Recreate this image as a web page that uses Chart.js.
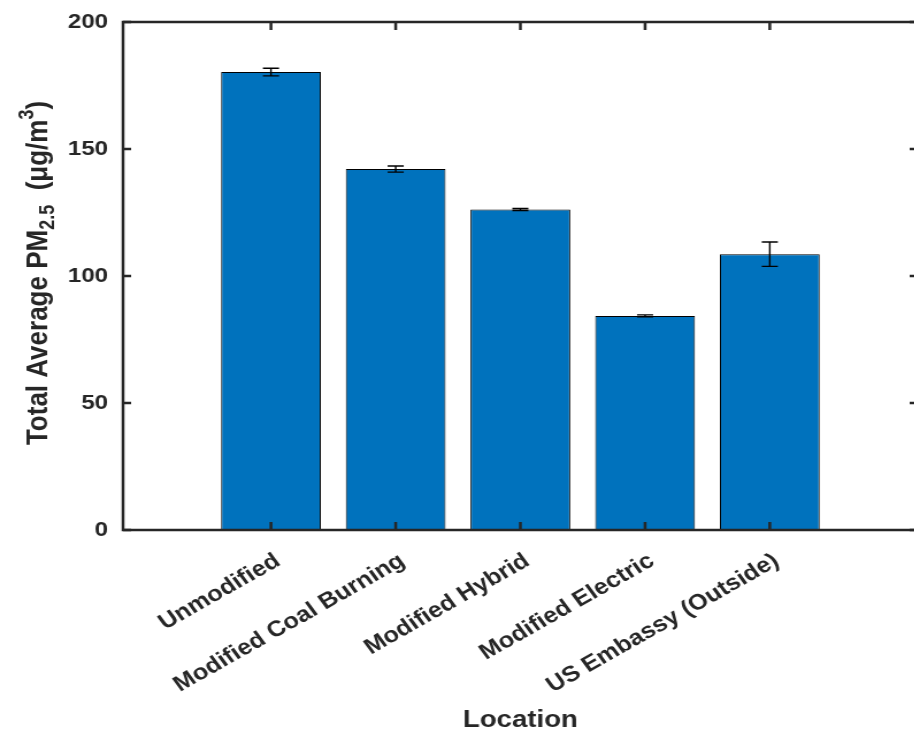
<!DOCTYPE html>
<html>
<head>
<meta charset="utf-8">
<script src="https://cdn.jsdelivr.net/npm/chart.js@4/dist/chart.umd.min.js"></script>
<style>
  html, body { margin: 0; padding: 0; background: #fff; overflow: hidden; }
  /* the original figure is a bit stretched horizontally */
  #wrap { width: 806px; height: 736px; position: relative; transform: scaleX(1.15); transform-origin: 0 0; }
</style>
</head>
<body>
<div id="wrap"><canvas id="pmChart"></canvas></div>
<script>
const categories = ['Unmodified', 'Modified Coal Burning', 'Modified Hybrid', 'Modified Electric', 'US Embassy (Outside)'];
const pmValues = [180.3, 142.1, 126.2, 84.3, 108.6];
const pmErrors = [1.5, 1.2, 0.4, 0.4, 4.8];
const yTicks = [0, 50, 100, 150, 200];

const AXIS_COLOR = '#262626';
const FONT = '"Liberation Sans", Arial, Helvetica, sans-serif';

// box, inward ticks, error bars and axis titles (MATLAB look)
const matlabAxes = {
  id: 'matlabAxes',
  afterDatasetsDraw(chart) {
    const { ctx, chartArea: a, scales: { x, y } } = chart;
    ctx.save();

    // error bars
    ctx.strokeStyle = '#000';
    ctx.lineWidth = 1.4;
    pmValues.forEach((v, i) => {
      const px = x.getPixelForValue(i + 1);
      const top = y.getPixelForValue(v + pmErrors[i]);
      const bot = y.getPixelForValue(v - pmErrors[i]);
      ctx.beginPath();
      ctx.moveTo(px, top); ctx.lineTo(px, bot);
      ctx.moveTo(px - 7, top); ctx.lineTo(px + 7, top);
      ctx.moveTo(px - 7, bot); ctx.lineTo(px + 7, bot);
      ctx.stroke();
    });

    // box
    ctx.strokeStyle = AXIS_COLOR;
    ctx.lineWidth = 2.5;
    ctx.strokeRect(a.left, a.top, a.right - a.left, a.bottom - a.top);

    // inward ticks
    ctx.beginPath();
    categories.forEach((c, i) => {
      const px = x.getPixelForValue(i + 1);
      ctx.moveTo(px, a.bottom); ctx.lineTo(px, a.bottom - 8);
      ctx.moveTo(px, a.top); ctx.lineTo(px, a.top + 8);
    });
    yTicks.forEach(t => {
      const py = y.getPixelForValue(t);
      ctx.moveTo(a.left, py); ctx.lineTo(a.left + 7, py);
      ctx.moveTo(a.right, py); ctx.lineTo(a.right - 7, py);
    });
    ctx.stroke();

    ctx.fillStyle = AXIS_COLOR;

    // x title
    ctx.font = 'bold 24px ' + FONT;
    ctx.textAlign = 'center';
    ctx.textBaseline = 'middle';
    ctx.fillText('Location', (a.left + a.right) / 2, 720);

    // y title with sub/superscript
    const parts = [
      { t: 'Total Average PM', s: 26, dy: 0 },
      { t: '2.5', s: 18, dy: 8 },
      { t: '  (μg/m', s: 26, dy: 0 },
      { t: '3', s: 18, dy: -10 },
      { t: ')', s: 26, dy: 0 }
    ];
    let total = 0;
    parts.forEach(p => { ctx.font = 'bold ' + p.s + 'px ' + FONT; p.w = ctx.measureText(p.t).width; total += p.w; });
    ctx.translate(34, (a.top + a.bottom) / 2 - 3);
    ctx.rotate(-Math.PI / 2);
    ctx.textAlign = 'left';
    let cx = -total / 2;
    parts.forEach(p => {
      ctx.font = 'bold ' + p.s + 'px ' + FONT;
      ctx.fillText(p.t, cx, p.dy);
      cx += p.w;
    });
    ctx.restore();
  }
};

new Chart(document.getElementById('pmChart'), {
  type: 'bar',
  data: {
    datasets: [{
      data: categories.map((c, i) => ({ x: i + 1, y: pmValues[i] })),
      backgroundColor: '#0072BD',
      borderColor: '#000',
      borderWidth: 1,
      barPercentage: 0.8,
      categoryPercentage: 1
    }]
  },
  options: {
    responsive: true,
    maintainAspectRatio: false,
    animation: false,
    layout: { padding: { top: 22, right: 8, left: 0, bottom: 0 } },
    plugins: { legend: { display: false }, tooltip: { enabled: false } },
    scales: {
      x: {
        type: 'linear',
        offset: false,
        min: -0.186,
        max: 6.186,
        afterBuildTicks: s => { s.ticks = categories.map((c, i) => ({ value: i + 1 })); },
        afterFit: s => { s.height = 206; },
        grid: { display: false },
        border: { display: false },
        ticks: {
          autoSkip: false,
          minRotation: 33,
          maxRotation: 33,
          padding: 10,
          labelOffset: 6,
          color: AXIS_COLOR,
          font: { family: FONT, size: 22, weight: 'bold' },
          callback: v => categories[v - 1] || ''
        }
      },
      y: {
        min: 0,
        max: 200,
        afterBuildTicks: s => { s.ticks = yTicks.map(v => ({ value: v })); },
        afterFit: s => { s.width = 107; },
        grid: { display: false },
        border: { display: false },
        ticks: {
          padding: 5,
          color: AXIS_COLOR,
          font: { family: FONT, size: 21, weight: 'bold' }
        }
      }
    }
  },
  plugins: [matlabAxes]
});
</script>
</body>
</html>
